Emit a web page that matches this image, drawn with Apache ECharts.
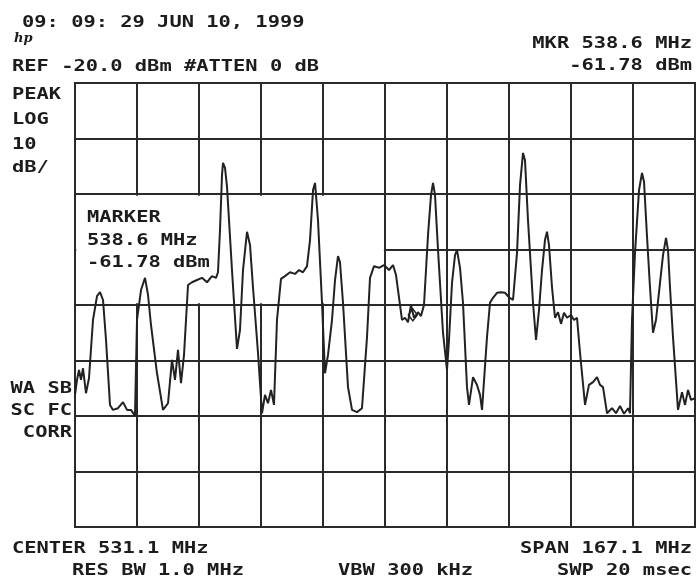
<!DOCTYPE html>
<html>
<head>
<meta charset="utf-8">
<script src="https://cdn.jsdelivr.net/npm/echarts@6/dist/echarts.min.js"></script>
<style>html,body{margin:0;padding:0;background:#fff}#c{width:698px;height:579px}</style>
</head>
<body>
<div id="c"></div>
<script>
// ---- data ----
const centerMHz = 531.1;
const spanMHz = 167.1;
const refLevelDbm = -20;
const dbPerDiv = 10;
const divisionsX = 10;
const divisionsY = 8;
const markerMHz = 538.6;
const markerDbm = -61.78;

const freqMHz = [
  447.55,448.09,448.63,449.17,449.71,450.51,451.32,452.40,453.48,454.29,
  455.10,455.91,456.98,457.79,459.14,460.49,461.57,462.64,463.72,464.26,
  465.34,466.42,467.23,468.03,469.65,471.27,472.62,473.69,474.50,475.31,
  476.12,476.93,478.01,479.08,480.43,481.78,483.13,484.47,485.55,486.09,
  486.63,487.17,487.44,487.98,488.52,489.86,491.21,492.02,492.83,493.91,
  494.72,495.52,496.87,497.95,498.76,499.57,500.38,501.18,501.99,503.07,
  504.15,505.50,506.84,507.92,509.00,510.08,510.89,511.70,512.24,513.04,
  514.12,514.93,515.74,516.82,517.63,518.43,518.97,519.78,521.13,522.21,
  523.56,524.90,526.25,527.06,528.14,529.48,530.83,532.18,533.26,534.07,
  534.61,535.68,536.49,537.30,538.11,538.92,540.00,540.80,541.61,542.69,
  543.50,544.04,544.58,545.39,546.73,547.81,548.35,549.16,549.97,550.51,
  551.32,552.12,553.20,553.74,554.82,555.90,556.71,557.25,558.59,559.40,
  560.21,561.29,562.37,563.44,564.52,565.60,566.68,567.49,568.30,568.83,
  569.64,570.99,571.80,572.61,573.42,574.22,574.76,575.30,576.11,576.92,
  577.73,578.54,579.35,580.15,581.23,582.04,582.85,583.66,585.01,586.08,
  587.16,588.24,589.05,589.86,590.94,592.28,593.36,594.44,595.52,596.60,
  597.13,597.67,598.48,599.56,600.37,600.91,601.72,602.52,603.33,604.14,
  605.22,606.03,606.84,607.38,607.91,608.72,610.07,611.15,611.96,612.77,
  613.57,614.65
];
const levelDbm = [
  -76.2,-73.5,-71.7,-73.5,-71.4,-75.9,-73.2,-62.7,-58.4,-57.7,
  -59.1,-66.3,-78.0,-78.9,-78.6,-77.5,-78.9,-78.9,-80.0,-62.7,
  -57.3,-55.1,-58.2,-63.6,-72.3,-78.9,-77.7,-69.9,-73.5,-68.1,
  -74.1,-69.0,-56.4,-55.9,-55.5,-55.1,-55.9,-54.8,-55.1,-54.1,
  -46.5,-36.6,-34.4,-35.3,-38.7,-53.7,-67.9,-64.5,-53.7,-46.8,
  -49.2,-56.8,-68.6,-79.5,-76.2,-77.7,-75.3,-78.0,-62.7,-55.3,
  -54.8,-54.1,-54.4,-53.7,-54.1,-53.0,-48.3,-39.3,-38.0,-44.7,
  -59.6,-72.3,-69.0,-62.7,-55.5,-51.2,-52.3,-59.6,-74.8,-78.9,
  -79.3,-78.6,-65.8,-55.1,-53.0,-53.3,-52.8,-53.7,-52.8,-54.6,
  -57.3,-62.7,-62.3,-63.1,-60.0,-62.3,-61.3,-62.0,-60.0,-47.4,
  -40.2,-38.0,-40.2,-50.1,-65.0,-71.7,-66.3,-56.0,-51.0,-50.1,
  -53.3,-59.6,-74.8,-78.0,-73.0,-74.4,-76.2,-78.9,-65.8,-59.6,
  -58.7,-57.8,-57.7,-57.8,-58.6,-59.1,-50.6,-38.4,-32.6,-33.9,
  -44.7,-59.6,-66.3,-60.9,-53.7,-48.3,-46.8,-49.2,-56.8,-62.3,
  -61.3,-63.4,-61.4,-62.3,-61.8,-62.7,-62.3,-68.6,-78.0,-74.4,
  -73.9,-73.0,-74.4,-74.8,-79.5,-78.6,-79.5,-78.2,-79.6,-78.6,
  -79.5,-62.7,-50.6,-39.3,-36.2,-37.8,-47.7,-56.8,-65.0,-62.7,
  -56.0,-51.0,-47.9,-50.1,-56.8,-65.8,-78.9,-75.7,-78.0,-75.3,
  -77.1,-76.8
];

const headerDate = "09: 09: 29 JUN 10, 1999";
const headerRef = "REF -20.0 dBm #ATTEN 0 dB";
const headerMkr1 = "MKR 538.6 MHz";
const headerMkr2 = "-61.78 dBm";
const leftLabels = ["PEAK", "LOG", "10", "dB/"];
const markerLabels = ["MARKER", "538.6 MHz", "-61.78 dBm"];
const corrLabels = ["WA SB", "SC FC", "CORR"];
const footCenter = "CENTER 531.1 MHz";
const footSpan = "SPAN 167.1 MHz";
const footRbw = "RES BW 1.0 MHz";
const footVbw = "VBW 300 kHz";
const footSwp = "SWP 20 msec";

// ---- chart ----
const xMin = centerMHz - spanMHz / 2;
const xMax = centerMHz + spanMHz / 2;
const yMax = refLevelDbm;
const yMin = refLevelDbm - dbPerDiv * divisionsY;

const INK = '#1c1c1c';
const FONT = 'bold 15px "DejaVu Sans Mono"';
const SX = 1.36;

function txt(str, x, y, align) {
  return {
    type: 'text', x: x, y: y, scaleX: SX, z: 100, silent: true,
    style: { text: str, x: 0, y: 0, font: FONT, fill: INK,
      align: align || 'left', verticalAlign: 'middle',
      textAlign: align || 'left', textVerticalAlign: 'middle' }
  };
}

const graphics = [];
graphics.push(txt(headerDate, 22, 23));
graphics.push({ type: 'text', x: 14, y: 39, silent: true, z: 100,
  style: { text: 'hp', x: 0, y: 0, font: 'italic bold 13px "DejaVu Serif"', fill: INK,
    align: 'left', verticalAlign: 'middle', textAlign: 'left', textVerticalAlign: 'middle' } });
graphics.push(txt(headerRef, 12, 67));
graphics.push(txt(headerMkr1, 692, 44, 'right'));
graphics.push(txt(headerMkr2, 692, 66, 'right'));
const leftY = [95, 120, 145, 168];
leftLabels.forEach((s, i) => graphics.push(txt(s, 12, leftY[i])));
const mkY = [218, 241, 263];
markerLabels.forEach((s, i) => graphics.push(txt(s, 87, mkY[i])));
const corrY = [389, 411, 433];
corrLabels.forEach((s, i) => graphics.push(txt(s, 72, corrY[i], 'right')));
graphics.push(txt(footCenter, 12, 549));
graphics.push(txt(footSpan, 692, 549, 'right'));
graphics.push(txt(footRbw, 72, 571));
graphics.push(txt(footVbw, 338, 571));
graphics.push(txt(footSwp, 692, 571, 'right'));

const chart = echarts.init(document.getElementById('c'), null, { renderer: 'canvas' });
chart.setOption({
  animation: false,
  backgroundColor: '#fff',
  grid: { left: 75, top: 83, right: 3, bottom: 52, show: true,
    borderColor: '#222', borderWidth: 2, backgroundColor: 'transparent' },
  xAxis: [
    { type: 'value', min: xMin, max: xMax, show: false },
    { type: 'value', min: 0, max: divisionsX, interval: 1, position: 'bottom',
      axisLine: { show: false }, axisTick: { show: false }, axisLabel: { show: false },
      splitLine: { show: true, lineStyle: { color: '#2a2a2a', width: 2 } } }
  ],
  yAxis: {
    type: 'value', min: yMin, max: yMax, interval: dbPerDiv,
    axisLine: { show: false }, axisTick: { show: false }, axisLabel: { show: false },
    splitLine: { show: true, lineStyle: { color: '#2a2a2a', width: 2 } }
  },
  series: [{
    type: 'line', xAxisIndex: 0, yAxisIndex: 0,
    data: freqMHz.map((f, i) => [f, levelDbm[i]]),
    showSymbol: false, smooth: false,
    lineStyle: { color: '#222', width: 2 },
    markArea: {
      silent: true,
      itemStyle: { color: '#ffffff', borderWidth: 0 },
      data: [[{ coord: [xMin + 0.35, refLevelDbm - 2 * dbPerDiv - 0.3] },
              { coord: [centerMHz - 0.3, refLevelDbm - 4 * dbPerDiv + 0.3] }]]
    },
    markPoint: {
      silent: true,
      symbol: 'diamond', symbolSize: [9, 12],
      itemStyle: { color: 'rgba(0,0,0,0)', borderColor: '#222', borderWidth: 1.5 },
      label: { show: false },
      data: [{ coord: [markerMHz, markerDbm] }]
    }
  }],
  graphic: graphics
});
</script>
</body>
</html>
